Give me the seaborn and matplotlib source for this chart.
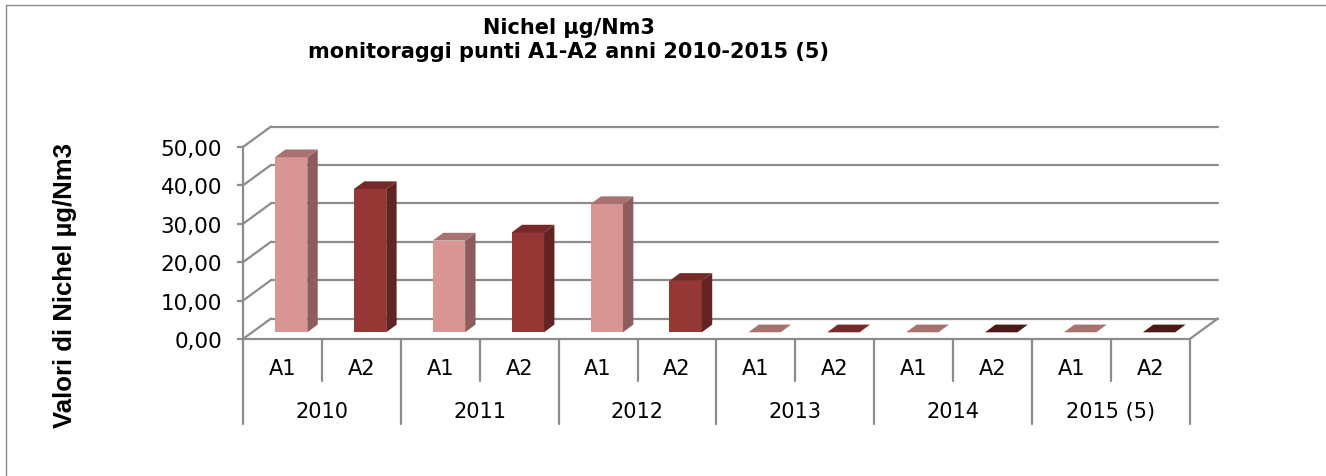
import pandas as pd
import matplotlib
matplotlib.use("Agg")
import matplotlib.pyplot as plt
import seaborn as sns
from matplotlib.patches import Polygon
from matplotlib.lines import Line2D

# =============================
# Dati
# =============================
anni = ["2010", "2011", "2012", "2013", "2014", "2015 (5)"]
punti = ["A1", "A2"]
valori_a1 = [45.6, 23.9, 33.4, 0.0, 0.0, 0.0]
valori_a2 = [37.3, 26.0, 13.4, 0.0, 0.0, 0.0]
y_ticks = [0, 10, 20, 30, 40, 50]

titolo = "Nichel µg/Nm3\nmonitoraggi punti A1-A2 anni 2010-2015 (5)"
etichetta_y = "Valori di Nichel µg/Nm3"

# colori stile Excel 3D
col_fronte = {"A1": "#D99594", "A2": "#953735"}
col_lato = {"A1": "#8C5D5C", "A2": "#622423"}
col_top = {"A1": "#A77270", "A2": "#77292A"}
col_top_scuro = "#4B1A18"   # A2 2014 / 2015
col_griglia = "#8C8C8C"

# =============================
# Tabella per seaborn
# =============================
righe = []
for i, anno in enumerate(anni):
    righe.append({"anno": anno, "punto": "A1", "slot": 2 * i, "valore": valori_a1[i]})
    righe.append({"anno": anno, "punto": "A2", "slot": 2 * i + 1, "valore": valori_a2[i]})
df = pd.DataFrame(righe)

# prospettiva finta (unità dati)
px_x = 78.9          # pixel per slot
px_y = 3.84          # pixel per unità
dx = 28 / px_x       # profondità parete di fondo
dy = 20.5 / px_y
off = 8.7 / px_x     # spostamento barra in profondità
base = 6.7 / px_y
ddx = 10.4 / px_x    # profondità della barra
ddy = 7.7 / px_y

df["pos"] = df["slot"] + 0.5 + off

# =============================
# Figura
# =============================
W, H = 1326, 477
fig = plt.figure(figsize=(W / 100, H / 100), dpi=100)
sns.set_style("white")
plt.rcParams["font.family"] = ["DejaVu Sans"]
plt.rcParams["text.color"] = "black"
plt.rcParams["ytick.labelcolor"] = "black"

n_slot = len(df)
x_left, y_floor = 243, 340
ax_w = (n_slot + dx) * px_x
ax_h = (50 + dy) * px_y
ax = fig.add_axes([x_left / W, (H - y_floor) / H, ax_w / W, ax_h / H])

sns.barplot(data=df, x="pos", y="valore", hue="punto", hue_order=punti,
            palette=col_fronte, native_scale=True, dodge=False, width=0.41,
            legend=False, ax=ax, zorder=3, linewidth=0, saturation=1)

ax.set_xlim(0, n_slot + dx)
ax.set_ylim(0, 50 + dy)
for s in ["top", "right", "bottom"]:
    ax.spines[s].set_visible(False)
ax.spines["left"].set_bounds(0, 50)
ax.spines["left"].set_color(col_griglia)
ax.spines["left"].set_linewidth(1.6)
ax.set_xticks([])
ax.set_yticks(y_ticks)
ax.set_yticklabels([f"{v:.2f}".replace(".", ",") for v in y_ticks], fontsize=15.5,
                   color="black")
ax.tick_params(axis="y", length=4, width=1.6, color=col_griglia, pad=11, left=True)
ax.set_xlabel("")
ax.set_ylabel("")
ax.patch.set_alpha(0)

# griglia: parete di fondo + parete sinistra
for v in y_ticks:
    ax.plot([dx, n_slot + dx], [v + dy, v + dy], color=col_griglia, lw=1.6, zorder=1, clip_on=False)
    ax.plot([0, dx], [v, v + dy], color=col_griglia, lw=1.6, zorder=1, clip_on=False)
# pavimento
ax.plot([0, n_slot], [0, 0], color=col_griglia, lw=1.6, zorder=1, clip_on=False)
ax.plot([n_slot, n_slot + dx], [0, dy], color=col_griglia, lw=1.6, zorder=1, clip_on=False)

# barre 3D: fronte spostato + lato + tetto
for punto, cont in zip(punti, ax.containers):
    sub = df[df["punto"] == punto].sort_values("pos")
    for p, anno in zip(cont.patches, sub["anno"]):
        p.set_y(base)
        x0, w, h = p.get_x(), p.get_width(), p.get_height()
        if h > 0:
            lato = Polygon([(x0 + w, base), (x0 + w + ddx, base + ddy),
                            (x0 + w + ddx, base + h + ddy), (x0 + w, base + h)],
                           closed=True, facecolor=col_lato[punto], edgecolor="none",
                           zorder=3, clip_on=False)
            ax.add_patch(lato)
        c_top = col_top[punto]
        if punto == "A2" and anno in ("2014", "2015 (5)"):
            c_top = col_top_scuro
        tetto = Polygon([(x0, base + h), (x0 + w, base + h),
                         (x0 + w + ddx, base + h + ddy), (x0 + ddx, base + h + ddy)],
                        closed=True, facecolor=c_top, edgecolor="none",
                        zorder=3, clip_on=False)
        ax.add_patch(tetto)

# asse categorie a due livelli
corto = (382 - y_floor) / px_y
lungo = (425 - y_floor) / px_y
for k in range(n_slot + 1):
    L = lungo if k % 2 == 0 else corto
    ax.plot([k, k], [0, -L], color=col_griglia, lw=1.6, clip_on=False)
for _, r in df.iterrows():
    ax.text(r["slot"] + 0.5, -(375 - y_floor) / px_y, r["punto"], ha="center",
            va="baseline", fontsize=15, color="black")
for i, anno in enumerate(anni):
    ax.text(2 * i + 1, -(418 - y_floor) / px_y, anno, ha="center",
            va="baseline", fontsize=15, color="black")

# titolo ed etichetta asse
fig.text(569 / W, 1 - 40 / H, titolo, ha="center", va="center", fontsize=15,
         fontweight="bold", linespacing=1.3, color="black")
fig.text(65 / W, 1 - 286 / H, etichetta_y, rotation=90, ha="center", va="center",
         fontsize=18.5, fontweight="bold", color="black",
         family=["Liberation Sans", "DejaVu Sans"])

# cornice del grafico (solo alto e sinistra visibili)
fig.add_artist(Line2D([6 / W, 1], [1 - 6 / H, 1 - 6 / H], transform=fig.transFigure,
                      color="#8A8A8A", lw=1))
fig.add_artist(Line2D([6 / W, 6 / W], [0, 1 - 6 / H], transform=fig.transFigure,
                      color="#8A8A8A", lw=1))

fig.savefig("out.png", dpi=100)
